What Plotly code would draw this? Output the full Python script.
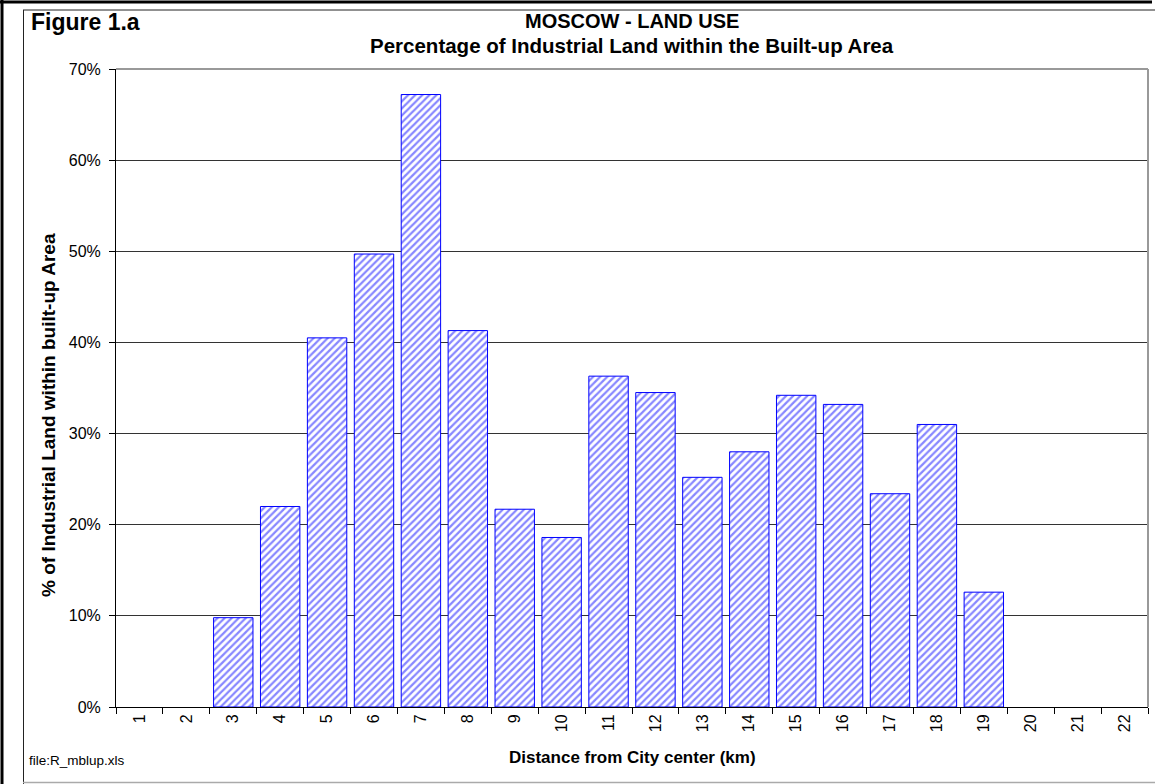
import plotly.graph_objects as go

distance_km = [str(i) for i in range(1, 23)]
industrial_share = [None, None, 0.098, 0.220, 0.405, 0.497, 0.672, 0.413, 0.217, 0.186,
                    0.363, 0.345, 0.252, 0.280, 0.342, 0.332, 0.234, 0.310, 0.126,
                    None, None, None]
y_ticks = [0, 0.1, 0.2, 0.3, 0.4, 0.5, 0.6, 0.7]

W, H = 1155, 784
L, R, T, B = 116, 1148, 69, 707


def px(x):
    return (x - L) / (R - L)


def py(y):
    return (B - y) / (B - T)


FONT = "Liberation Sans, Arial, sans-serif"

fig = go.Figure()
fig.add_trace(go.Bar(
    x=distance_km,
    y=industrial_share,
    marker=dict(
        color="white",
        line=dict(color="#0000ff", width=1),
        pattern=dict(shape="/", fgcolor="#1010ff", bgcolor="white", size=5, solidity=0.45),
    ),
    hoverinfo="x+y",
))

fig.update_layout(
    width=W, height=H,
    margin=dict(l=L, r=W - R, t=T, b=H - B, pad=0, autoexpand=False),
    paper_bgcolor="white", plot_bgcolor="white",
    showlegend=False,
    bargap=0.16,
    font=dict(family=FONT, color="black"),
    xaxis=dict(
        type="category",
        tickson="boundaries",
        ticks="outside", ticklen=6, tickcolor="black", tickwidth=1,
        tickangle=-90,
        tickfont=dict(size=16, family=FONT),
        showline=True, linecolor="black", linewidth=1,
        showgrid=False,
    ),
    yaxis=dict(
        range=[0, 0.7],
        tickvals=y_ticks,
        tickformat=".0%",
        ticks="outside", ticklen=6, tickcolor="black", tickwidth=1,
        ticklabelstandoff=5,
        tickfont=dict(size=16, family=FONT),
        showline=True, linecolor="black", linewidth=1,
        showgrid=True, gridcolor="#333333", gridwidth=1,
        zeroline=False,
    ),
)

shapes = []
# plot area top and right gray border
shapes.append(dict(type="line", xref="paper", yref="paper", x0=0, x1=1, y0=1, y1=1,
                   line=dict(color="#999999", width=2)))
shapes.append(dict(type="line", xref="paper", yref="paper", x0=1, x1=1, y0=0, y1=1,
                   line=dict(color="#999999", width=2)))
# outer thick black frame
shapes.append(dict(type="line", xref="paper", yref="paper", x0=px(0), x1=px(1152), y0=py(2), y1=py(2),
                   line=dict(color="black", width=3)))
shapes.append(dict(type="line", xref="paper", yref="paper", x0=px(2), x1=px(2), y0=py(0), y1=py(784),
                   line=dict(color="black", width=3)))
# inner chart frame
shapes.append(dict(type="line", xref="paper", yref="paper", x0=px(23), x1=px(1155), y0=py(10), y1=py(10),
                   line=dict(color="#222222", width=1)))
shapes.append(dict(type="line", xref="paper", yref="paper", x0=px(23.5), x1=px(23.5), y0=py(10), y1=py(784),
                   line=dict(color="#222222", width=1)))
shapes.append(dict(type="line", xref="paper", yref="paper", x0=px(23), x1=px(1155), y0=py(782.5), y1=py(782.5),
                   line=dict(color="#aaaaaa", width=1.5)))
fig.update_layout(shapes=shapes)

annotations = [
    dict(text="<b>Figure 1.a</b>", x=px(29), y=py(22), xanchor="left", yanchor="middle",
         font=dict(size=23, family=FONT)),
    dict(text="<b>MOSCOW - LAND USE</b>", x=0.5, y=py(21), xanchor="center", yanchor="middle",
         font=dict(size=20, family=FONT)),
    dict(text="<b>Percentage of Industrial Land within the Built-up Area</b>", x=0.5, y=py(46),
         xanchor="center", yanchor="middle", font=dict(size=20.5, family=FONT)),
    dict(text="<b>Distance from City center (km)</b>", x=0.5, y=py(757), xanchor="center", yanchor="middle",
         font=dict(size=17, family=FONT)),
    dict(text="<b>% of Industrial Land within built-up Area</b>", x=px(48), y=py(415), textangle=-90,
         xanchor="center", yanchor="middle", font=dict(size=19, family=FONT)),
    dict(text="file:R_mblup.xls", x=px(27), y=py(760), xanchor="left", yanchor="middle",
         font=dict(size=13.5, family=FONT)),
]
for a in annotations:
    a.update(xref="paper", yref="paper", showarrow=False)
fig.update_layout(annotations=annotations)

fig.write_html("out.html", config={"displayModeBar": False},
               post_script="document.body.style.margin='0px';document.body.style.padding='0px';")
